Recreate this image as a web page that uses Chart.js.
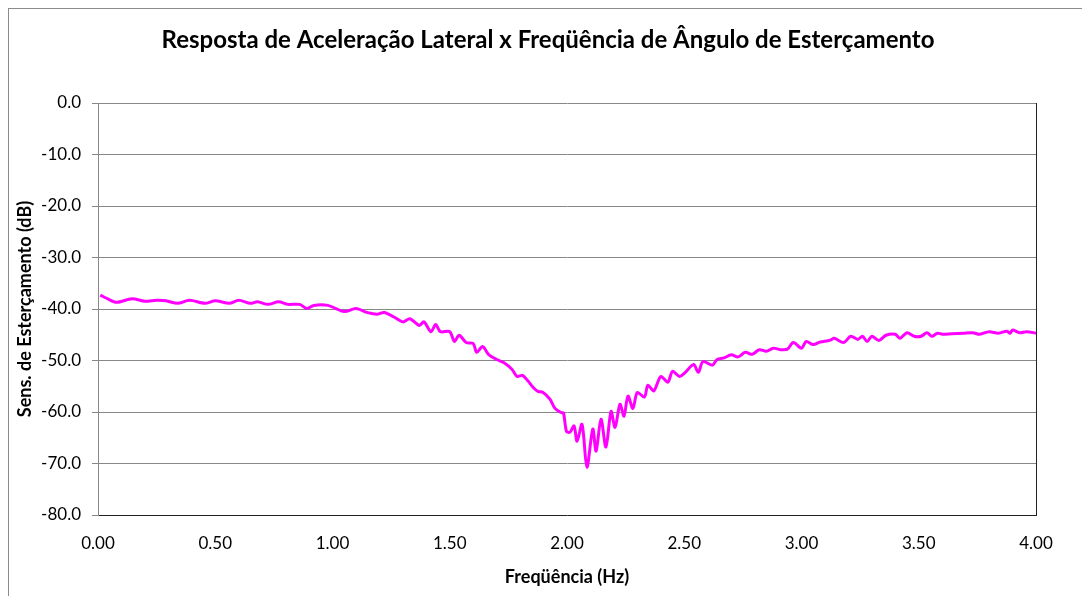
<!DOCTYPE html>
<html>
<head>
<meta charset="utf-8">
<title>Resposta de Aceleração Lateral</title>
<script src="https://cdn.jsdelivr.net/npm/chart.js@4.4.1/dist/chart.umd.min.js"></script>
<style>
  html, body { margin: 0; padding: 0; background: #fff; }
  canvas { display: block; }
</style>
</head>
<body>
<canvas id="resposta" width="1082" height="596"></canvas>
<script>
// valores (Hz, dB)
const freq = [
  0.01, 0.04, 0.08, 0.145, 0.20, 0.25, 0.29, 0.34, 0.39, 0.456,
  0.50, 0.56, 0.60, 0.65, 0.68, 0.725, 0.77, 0.81, 0.86, 0.89,
  0.92, 0.98, 1.05, 1.10, 1.15, 1.19, 1.22, 1.26, 1.30, 1.33,
  1.37, 1.39, 1.42, 1.44, 1.46, 1.50, 1.52, 1.54, 1.57, 1.60,
  1.615, 1.64, 1.665, 1.70, 1.73, 1.765, 1.787, 1.81, 1.834, 1.855,
  1.876, 1.898, 1.927, 1.949, 1.975, 1.985, 1.998, 2.013, 2.03, 2.043,
  2.064, 2.085, 2.11, 2.124, 2.145, 2.166, 2.188, 2.205, 2.226, 2.243,
  2.26, 2.281, 2.30, 2.33, 2.345, 2.37, 2.40, 2.43, 2.45, 2.48,
  2.50, 2.54, 2.56, 2.58, 2.62, 2.64, 2.67, 2.70, 2.73, 2.76,
  2.79, 2.82, 2.85, 2.88, 2.91, 2.94, 2.965, 3.00, 3.02, 3.05,
  3.08, 3.12, 3.14, 3.18, 3.21, 3.24, 3.26, 3.28, 3.30, 3.33,
  3.36, 3.40, 3.42, 3.45, 3.48, 3.51, 3.535, 3.556, 3.58, 3.60,
  3.64, 3.69, 3.73, 3.76, 3.80, 3.84, 3.875, 3.89, 3.90, 3.93,
  3.96, 4.00
];
const sens = [
  -37.3, -38.0, -38.7, -38.0, -38.5, -38.3, -38.4, -38.9, -38.3, -38.9,
  -38.4, -38.9, -38.3, -38.9, -38.6, -39.1, -38.6, -39.1, -39.1, -39.9,
  -39.3, -39.3, -40.5, -39.9, -40.7, -41.0, -40.7, -41.5, -42.5, -41.9,
  -43.2, -42.5, -44.4, -43.0, -44.4, -44.4, -46.3, -45.1, -46.5, -46.7,
  -48.4, -47.3, -48.8, -49.8, -50.4, -51.7, -53.1, -52.9, -54.0, -55.2,
  -56.0, -56.2, -57.5, -59.3, -60.1, -60.2, -63.8, -63.9, -62.7, -65.7,
  -62.4, -70.7, -63.3, -67.6, -61.4, -66.8, -59.9, -63.0, -58.5, -60.8,
  -56.9, -59.3, -56.2, -57.1, -54.8, -55.9, -53.1, -54.2, -52.1, -53.1,
  -52.5, -50.8, -52.3, -50.2, -50.9, -49.8, -49.5, -48.9, -49.3, -48.4,
  -48.8, -47.9, -48.2, -47.6, -47.9, -47.8, -46.5, -47.6, -46.3, -46.9,
  -46.4, -46.1, -45.7, -46.5, -45.3, -45.9, -45.3, -46.3, -45.3, -46.1,
  -45.1, -44.9, -45.7, -44.6, -45.3, -45.3, -44.6, -45.3, -44.7, -44.9,
  -44.8, -44.7, -44.6, -44.9, -44.4, -44.7, -44.3, -44.7, -44.1, -44.6,
  -44.4, -44.7
];
const xTicks = [0, 0.5, 1, 1.5, 2, 2.5, 3, 3.5, 4];
const yTicks = [0, -10, -20, -30, -40, -50, -60, -70, -80];

const gridGray = '#888888';

// moldura externa do grafico
const moldura = {
  id: 'moldura',
  beforeDraw(chart) {
    const ctx = chart.ctx;
    ctx.save();
    ctx.strokeStyle = '#8c8c8c';
    ctx.lineWidth = 1;
    ctx.strokeRect(8.5, 8.5, 2000, 2000);
    ctx.restore();
  }
};

const ctx = document.getElementById('resposta');
const chart = new Chart(ctx, {
  type: 'line',
  data: {
    datasets: [{
      data: freq.map((f, i) => ({ x: f, y: sens[i] })),
      borderColor: '#ff00ff',
      borderWidth: 3,
      pointRadius: 0,
      tension: 0.3,
      fill: false
    }]
  },
  options: {
    responsive: false,
    animation: false,
    devicePixelRatio: 1,
    layout: { padding: { left: 14, right: 0, top: 0, bottom: 0 } },
    plugins: {
      legend: { display: false },
      tooltip: { enabled: false },
      title: {
        display: true,
        text: 'Resposta de Aceleração Lateral x Freqüência de Ângulo de Esterçamento',
        color: '#000',
        font: { family: 'Lato', size: 24, weight: 'bold' },
        padding: { top: 25.6, bottom: 48.6 }
      }
    },
    scales: {
      x: {
        type: 'linear',
        min: 0,
        max: 4,
        afterBuildTicks: s => { s.ticks = xTicks.map(v => ({ value: v })); },
        ticks: {
          color: '#000',
          font: { family: 'Lato', size: 17 },
          padding: 18,
          maxRotation: 0,
          callback: v => v.toFixed(2)
        },
        grid: { display: false, drawTicks: false },
        border: { display: true, color: '#222', width: 1 },
        title: {
          display: true,
          text: 'Freqüência (Hz)',
          color: '#000',
          font: { family: 'Lato', size: 18, weight: 'bold' },
          padding: { top: 0, bottom: 8.2 }
        },
        afterFit: s => { s.height = 81; }
      },
      y: {
        min: -80,
        max: 0,
        afterBuildTicks: s => { s.ticks = yTicks.map(v => ({ value: v })); },
        ticks: {
          color: '#000',
          font: { family: 'Lato', size: 17 },
          padding: 11,
          callback: v => v.toFixed(1)
        },
        grid: {
          color: c => (c.tick && c.tick.value === -80) ? 'rgba(0,0,0,0)' : gridGray,
          tickColor: gridGray,
          tickLength: 6,
          lineWidth: 1
        },
        border: { display: true, color: gridGray, width: 1 },
        title: {
          display: true,
          text: 'Sens. de Esterçamento (dB)',
          color: '#000',
          font: { family: 'Lato', size: 18, weight: 'bold' },
          padding: { top: 0, bottom: 0 }
        },
        afterFit: s => { s.width = 84; }
      },
      direita: {
        position: 'right',
        min: -80,
        max: 0,
        ticks: { display: false },
        grid: { display: false, drawTicks: false },
        border: { display: true, color: '#222', width: 1 },
        afterFit: s => { s.width = 46; }
      }
    }
  },
  plugins: [moldura]
});
</script>
</body>
</html>
